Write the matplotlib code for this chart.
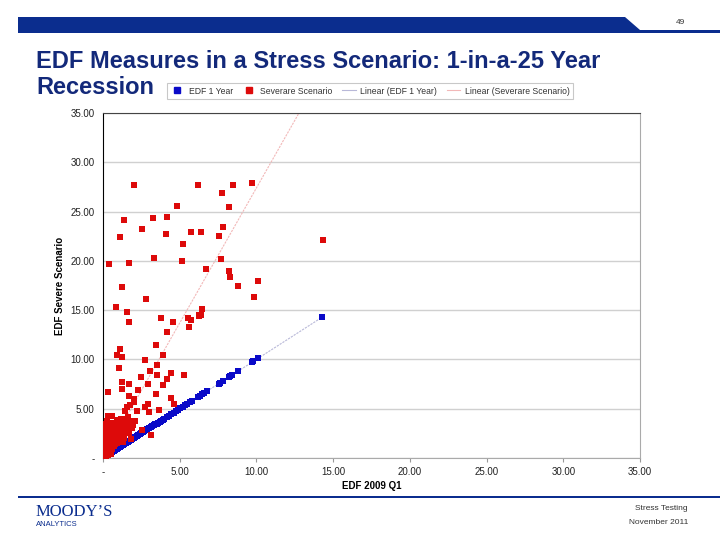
import numpy as np
import matplotlib
matplotlib.use("Agg")
import matplotlib.pyplot as plt
from matplotlib.lines import Line2D
from matplotlib.patches import Rectangle

plt.rcParams['font.family'] = ['Liberation Sans', 'DejaVu Sans']

NAVY = '#0b2d8e'
TITLE_COL = '#13297a'
RED = '#dd0a0a'
BLUE = '#0a0ac8'

# EDF 1 Year (blue) - sits on the diagonal
blue_x = [0.05, 0.1, 0.15, 0.2, 0.3, 0.4, 0.5, 0.6, 0.7, 0.8, 0.9, 1.0, 1.1, 1.2,
          1.3, 1.4, 1.5, 1.6, 1.7, 1.8, 1.9, 2.0, 2.1, 2.2, 2.3, 2.4, 2.5, 2.6,
          2.7, 2.8, 2.9, 3.0, 3.1, 3.2, 3.3, 3.4, 3.5, 3.6, 3.7, 3.8, 3.9, 4.0,
          4.15, 4.3, 4.45, 4.6, 4.75, 4.9, 5.05, 5.2, 5.35, 5.5, 5.65, 5.8, 6.2,
          6.3, 6.45, 6.6, 6.8, 7.55, 7.65, 7.8, 8.2, 8.3, 8.4, 8.8, 9.7, 9.8,
          10.1, 14.3]
blue_y = [0.05, 0.1, 0.15, 0.2, 0.3, 0.4, 0.5, 0.6, 0.7, 0.8, 0.9, 1.0, 1.1, 1.2,
          1.3, 1.4, 1.5, 1.6, 1.7, 1.8, 1.9, 2.0, 2.1, 2.2, 2.3, 2.4, 2.5, 2.6,
          2.7, 2.8, 2.9, 3.0, 3.1, 3.2, 3.3, 3.4, 3.5, 3.6, 3.7, 3.8, 3.9, 4.0,
          4.15, 4.3, 4.45, 4.6, 4.75, 4.9, 5.05, 5.2, 5.35, 5.5, 5.65, 5.8, 6.2,
          6.3, 6.45, 6.6, 6.8, 7.55, 7.65, 7.8, 8.2, 8.3, 8.4, 8.8, 9.7, 9.8,
          10.1, 14.3]

# Severare Scenario (red)
red_x = [2.03, 6.16, 7.76, 4.84, 8.19, 1.37, 3.25, 4.18, 2.53, 1.09, 4.12, 5.73,
         6.36, 7.82, 7.56, 5.23, 3.35, 5.16, 7.67, 0.41, 1.70, 6.71, 8.19, 8.30,
         1.22, 2.83, 0.83, 1.55, 6.43, 6.23, 8.50, 9.72, 14.31, 10.13, 8.80, 9.82,
         1.72, 3.81, 4.53, 5.51, 5.73, 5.62, 6.27, 6.40, 4.14, 3.46, 1.11, 0.90,
         1.22, 3.92, 2.75, 1.05, 3.53, 3.05, 3.55, 4.44, 5.29, 2.46, 4.14, 1.24,
         1.68, 2.96, 3.88, 1.22, 2.27, 0.35, 3.48, 4.40, 4.64, 1.70, 2.05, 2.00,
         2.92, 2.74, 3.00, 3.68, 1.44, 1.55, 1.76, 2.20, 0.61, 0.90, 1.33, 1.55,
         2.10, 2.53, 3.12, 1.81, 1.87, 1.98,
         0.05, 0.10, 0.15, 0.20, 0.25, 0.30, 0.10, 0.15, 0.20, 0.10, 0.15, 0.30,
         0.35, 0.40, 0.40, 0.45, 0.50, 0.50, 0.55, 0.60, 0.60, 0.65, 0.70, 0.70,
         0.75, 0.80, 0.80, 0.85, 0.90, 0.95, 1.00, 1.00, 1.05, 1.10, 1.15, 1.20,
         1.25, 1.30, 1.40, 1.40, 1.50, 1.60, 1.70, 1.30, 0.25, 0.35, 0.50, 0.20,
         0.30, 0.05, 0.08, 0.12, 0.18, 0.22, 0.28, 0.33, 0.38, 0.42, 0.48, 0.52,
         0.58, 0.62, 0.68, 0.72, 0.78, 0.82, 0.88, 0.92, 0.98, 1.08, 1.18, 1.35,
         1.45, 1.55, 1.65, 1.75, 1.85]
red_y = [27.7, 27.7, 26.9, 25.6, 25.5, 24.1, 24.3, 24.4, 23.2, 22.4, 22.7, 22.9,
         22.9, 23.4, 22.5, 21.7, 20.3, 20.0, 20.2, 19.7, 19.8, 19.2, 18.95, 18.4,
         17.3, 16.1, 15.3, 14.8, 15.1, 14.4, 27.7, 27.9, 22.1, 17.97, 17.5, 16.3,
         13.8, 14.2, 13.8, 14.25, 14.0, 13.3, 14.5, 14.5, 12.8, 11.5, 11.1, 10.5,
         10.2, 10.4, 9.95, 9.1, 9.4, 8.8, 8.46, 8.6, 8.43, 8.2, 8.0, 7.75,
         7.55, 7.5, 7.4, 7.0, 6.9, 6.7, 6.5, 6.06, 5.5, 6.3, 6.0, 5.7,
         5.5, 5.2, 4.7, 4.9, 4.8, 5.2, 5.38, 4.8, 4.27, 3.85, 4.0, 3.7,
         3.75, 2.84, 2.34, 1.93, 3.0, 3.35,
         0.1, 0.3, 0.5, 0.2, 0.8, 1.2, 1.6, 2.0, 2.5, 3.0, 3.4, 2.2,
         1.0, 0.6, 1.8, 2.8, 1.4, 3.3, 2.1, 0.9, 2.6, 1.7, 3.0, 1.2,
         2.3, 3.6, 1.9, 2.7, 1.5, 3.2, 2.4, 1.8, 2.9, 3.5, 2.2, 4.0,
         2.6, 3.1, 2.0, 3.8, 2.9, 3.3, 2.5, 1.6, 3.8, 4.3, 0.4, 1.3,
         0.3, 0.6, 2.3, 1.0, 2.9, 3.2, 1.6, 2.6, 3.6, 2.2, 1.0, 2.5,
         3.0, 1.4, 2.0, 2.6, 1.4, 2.2, 3.0, 2.0, 2.7, 2.0, 3.3, 2.4,
         2.7, 3.6, 4.2, 3.0, 3.8]

# trendlines
edf_slope, edf_icpt = 1.0, 0.0
sev_slope, sev_icpt = 2.74, 0.0
trend_x = [0.0, 14.3]

ticks = [0, 5, 10, 15, 20, 25, 30, 35]
tick_labels = ['-' if t == 0 else f'{t:.2f}' for t in ticks]

fig = plt.figure(figsize=(7.2, 5.4), dpi=100)

# top banner
banner = plt.Polygon([[18/720, 1-17/540], [625/720, 1-17/540], [640/720, 1-30/540],
                      [1.0, 1-30/540], [1.0, 1-33/540], [18/720, 1-33/540]],
                     closed=True, transform=fig.transFigure, color=NAVY, lw=0)
fig.patches.append(banner)
fig.text(680/720, 1-23/540, '49', fontsize=6, color='#333333', ha='center', va='center')

fig.text(36/720, 1-62/540, 'EDF Measures in a Stress Scenario: 1-in-a-25 Year',
         fontsize=17, fontweight='bold', color=TITLE_COL, va='center', ha='left')
fig.text(36/720, 1-87/540, 'Recession',
         fontsize=17, fontweight='bold', color=TITLE_COL, va='center', ha='left')

ax = fig.add_axes([103/720, 1-458/540, 537/720, 345/540])
ax.scatter(blue_x, blue_y, marker='s', s=16, color=BLUE, lw=0, zorder=3)
ax.scatter(red_x, red_y, marker='s', s=22, color=RED, lw=0, zorder=4)

tx = np.array(trend_x)
ax.plot(tx, edf_slope*tx + edf_icpt, color='#b8b8d8', lw=0.8, ls=(0, (2, 1)), zorder=2)
ax.plot(tx, sev_slope*tx + sev_icpt, color='#f2b8b8', lw=0.8, ls=(0, (2, 1)), zorder=2)

ax.set_xlim(0, 35)
ax.set_ylim(0, 35)
ax.set_xticks(ticks)
ax.set_xticklabels(tick_labels)
ax.set_yticks(ticks)
ax.set_yticklabels(tick_labels)
ax.yaxis.grid(True, color='#d0d0d0', lw=1)
ax.set_axisbelow(True)
ax.tick_params(axis='both', labelsize=7, colors='#222222', length=3)
ax.tick_params(axis='x', color='#999999')
ax.tick_params(axis='y', length=0, pad=6)
ax.spines['left'].set_color('black')
ax.spines['top'].set_color('#444444')
ax.spines['right'].set_color('#aaaaaa')
ax.spines['bottom'].set_color('#aaaaaa')
ax.set_xlabel('EDF 2009 Q1', fontsize=7, fontweight='bold', labelpad=3)
ax.set_ylabel('EDF Severe Scenario', fontsize=7, fontweight='bold', labelpad=4)

handles = [
    Line2D([], [], marker='s', ls='none', color=BLUE, markersize=4),
    Line2D([], [], marker='s', ls='none', color=RED, markersize=4),
    Line2D([], [], color='#b8b8d8', lw=0.8),
    Line2D([], [], color='#f2b8b8', lw=0.8),
]
labels = ['EDF 1 Year', 'Severare Scenario', 'Linear (EDF 1 Year)', 'Linear (Severare Scenario)']
leg = fig.legend(handles, labels, loc='center', ncol=4, fontsize=6.2,
                 bbox_to_anchor=(370/720, 1-91/540), frameon=True, fancybox=False,
                 edgecolor='#bbbbbb', handlelength=1.6, handletextpad=0.5,
                 columnspacing=1.1, borderpad=0.35)
leg.get_frame().set_linewidth(0.8)
for t in leg.get_texts():
    t.set_color('#333333')

# footer
fig.patches.append(Rectangle((18/720, 1-498/540), 702/720, 2.5/540,
                             transform=fig.transFigure, color=NAVY, lw=0))
fig.text(36/720, 1-512/540, 'MOODY\u2019S', fontsize=12, family='Liberation Serif',
         color=NAVY, va='center', ha='left')
fig.text(36/720, 1-525/540, 'ANALYTICS', fontsize=5.5, color=NAVY, va='center', ha='left')
fig.text(688/720, 1-509/540, 'Stress Testing', fontsize=6, color='#333333', va='center', ha='right')
fig.text(688/720, 1-523/540, 'November 2011', fontsize=6, color='#333333', va='center', ha='right')

fig.savefig('out.png', dpi=100)
